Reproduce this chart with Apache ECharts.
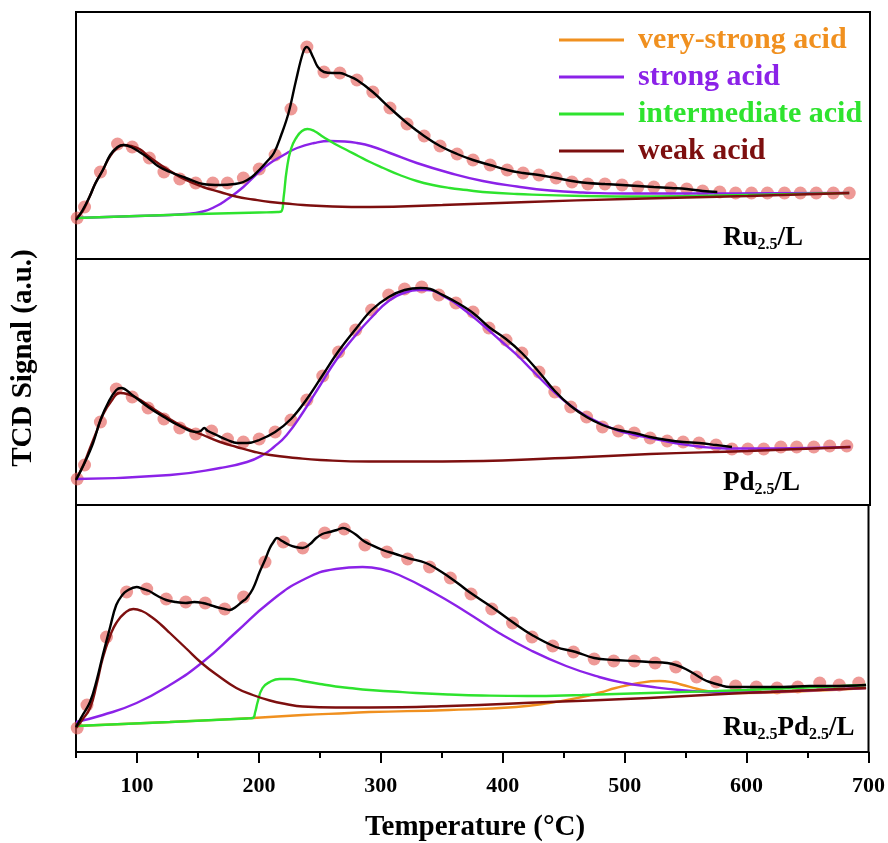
<!DOCTYPE html>
<html>
<head>
<meta charset="utf-8">
<script src="https://cdn.jsdelivr.net/npm/echarts@6/dist/echarts.min.js"></script>
<style>
  html, body { margin: 0; padding: 0; background: #fff; }
  #chart { width: 888px; height: 843px; }
</style>
</head>
<body>
<div id="chart"></div>
<script>
// NH3-TPD profiles with peak deconvolution, three catalysts stacked on a shared temperature axis.

// ---------- Ru2.5/L ----------
const tempRu = [51,57,70,84,96,110,122,135,148,162,174,187,200,213,226,239,253,266,280,293,307,321,335,348,362,375,389,403,416,429,443,456,469,483,497,510,523,537,550,563,577,590,603,616,630,643,656,670,683];
const measRu = [41,52,87,115,112,101,87,80,76,76,76,81,90,104,150,212,187,186,179,167,151,135,123,113,105,99,94,89,86,84,81,77,75,75,74,72,72,71,70,68,67,66,66,66,66,66,66,66,66];
const fitRu = [[50,39],[55,48],[61,62],[66,76],[72,89],[78,104],[84,112],[89,114],[95,112],[102,107],[108,102],[117,93],[127,87],[140,81],[154,75],[168,74],[180,75],[187,77],[194,82],[200,89],[206,97],[212,106],[218,124],[224,146],[230,178],[236,207],[239,212],[244,202],[248,192],[253,187],[260,186],[266,186],[273,183],[280,179],[293,167],[307,151],[321,136],[335,123],[348,113],[362,105],[375,99],[389,94],[403,89],[416,86],[429,84],[443,81],[456,78],[469,76],[483,75],[497,74],[510,73],[523,72],[537,71],[550,70],[563,68],[575,67]];
const weakRu = [[50,41],[55,47],[61,62],[66,76],[72,89],[78,103],[84,111],[89,114],[95,113],[102,110],[108,104],[117,96],[127,88],[140,79],[154,72],[168,67],[181,62.5],[195,59.5],[209,57],[222,55.5],[236,54],[260,52.5],[291,52],[350,54],[420,57],[500,60],[600,63],[683,66]];
const strongRu = [[50,41],[100,43],[140,45],[154,47.5],[165,53],[173,59],[187,72],[198,85],[209,96],[220,104],[231,111],[245,116],[258,118],[270,117.5],[280,116],[291,113],[307,106],[329,96],[356,86],[383,78],[411,72.5],[438,68.5],[465,66.5],[500,65.5],[560,65.5],[620,65.8],[683,66]];
const interRu = [[50,41],[100,43],[150,45],[200,46.5],[215,47],[218,47.5],[220,62],[222.5,89],[226,110],[230.7,122],[235,128],[239.4,130],[245,128],[252.5,122],[262,115],[271.6,109],[281,103],[290.7,97],[301.6,91],[315,84],[329,78],[342,74],[356,71],[370,69],[383,67],[411,65],[465,63],[520,62.5],[600,64],[683,66]];

// ---------- Pd2.5/L ----------
const tempPd = [51,57,70,83,96,109,122,135,148,161,174,187,200,213,226,239,252,265,279,292,306,319,333,347,361,375,388,402,415,429,442,455,468,481,494,507,520,534,547,560,574,587,600,613,627,640,654,667,681];
const measPd = [26,40,83,116,108,97,86,77,71,74,66,63,66,73,85,105,129,153,175,195,210,216,218,210,202,193,177,165,152,133,113,98,88,78,74,72,67,64,63,62,60,56,56,56,58,58,58,59,59];
const fitPd = [[50,25],[57,42],[64,62],[70,85],[77,104],[83,115],[87,117],[96,110],[109,98],[122,88],[135,79],[148,73],[152,74],[155,77],[158,74],[165,70],[174,65],[182,62],[190,62],[200,65],[213,73],[226,86],[239,106],[252,130],[265,154],[279,176],[292,195],[306,208],[319,215],[332,217],[340,216],[347,212],[361,203],[375,192],[388,178],[402,166],[415,152],[429,133],[442,114],[455,99],[468,88],[481,80],[494,75],[507,72],[520,68],[534,65],[547,63],[560,62],[574,60],[587,58]];
const weakPd = [[50,26],[56,40],[61.5,57],[67,74],[72,90],[79,104],[86,112],[92,111],[100,107],[110,99],[121.5,90],[137,79],[154,70],[168,63],[181.5,58],[195,53.5],[209,50],[230,47],[250,45],[290,43.5],[350,43.5],[450,47],[520,51],[600,54],[684,58]];
const strongPd = [[50,26],[127,30],[168,37],[190,43],[203,50],[212,58],[222.5,70],[236,93],[250,120],[263,145],[277,167],[290.7,186],[307,205],[320.7,213],[330,215],[337,215],[353.5,207],[368,195],[383,180],[397,165],[411,150],[424,134],[438,117],[452,102],[465,91],[479,82],[492.6,75],[506,70.5],[520,67],[540,62],[560,58.5],[583,56.5],[620,56.5],[684,58]];

// ---------- Ru2.5Pd2.5/L ----------
const tempRuPd = [51,59,75,91.5,108,124,140,156,172,187.5,205,220,236,254,270,287,305,322,340,357,374,391,408,424,441,458,475,491,508,525,542,559,575,591,608,625,642,660,676,692];
const measRuPd = [24,47,115,160,163,153,150,149,143,155,190,210,204,219,223,207,200,193,185,174,158,143,129,115,106,100,93,91,91,89,85,75,70,66,65,64,65,69,67,69];
const fitRuPd = [[50,25],[55,36],[61.5,50],[67,72],[72,97],[78,125],[83,147],[88,157],[91.5,161],[99.7,165],[105,163],[110,161],[117,156],[124,152],[132,150],[140,149],[147,150],[154,149],[160,147],[165,145],[172,143],[176,142],[181,145],[186,150],[190,154],[195,163],[200.6,180],[205,192],[209,204],[212,210],[214.8,214],[219,211],[225,207],[230,205],[236,204],[242,208],[247,214],[252,218],[258,220],[264,222],[269,224],[275,221],[280,217],[286,211],[290.7,208],[301.6,202],[312,198],[322,194],[337,189],[346,183],[356,175],[364,168],[372.6,160],[391,145],[408,130],[424,117],[443.5,105],[460,100],[475,94],[491,92],[508,91],[520,90],[535,89],[542,87],[550,83],[558.6,77],[564,73],[569.6,70],[578,67],[586,65],[600,65],[613,65],[630,65],[651.5,66],[670,66],[698,67]];
const weakRuPd = [[50,24],[55,32],[61.5,44],[67,68],[72,94],[78,116],[83,129],[90,139],[97,143],[104,141],[112,135],[120,127],[127,119],[140,104],[154,88],[168,75],[181.5,64],[195,57],[209,51.5],[222,48],[236,45.5],[263,44.5],[290.7,44.5],[356,46],[438,50],[520,54],[597,59],[698,64]];
const strongRuPd = [[50,30],[72,37],[99.7,49],[127,67],[154,90],[181.5,120],[209,150],[236,172],[263,183],[285,185],[300,183],[315,177],[342.5,160],[370,140],[397,119],[424,101],[452,86],[479,75],[500,69],[520,65.5],[545,62],[570,60],[597,59.5],[640,61],[698,64]];
const interRuPd = [[50,26],[127,30],[190,33.5],[195,34],[197,40],[199,50],[203,64],[209,70],[217,73],[225,73],[236,71],[250,68],[263,65.5],[274,64],[290.7,62],[310,60.5],[329,59],[356,57.5],[383,56.5],[420,56],[465,57],[520,59],[600,62],[698,67]];
const vstrongRuPd = [[50,26],[127,30],[195,34],[236,37],[274,39],[290.7,40],[356,42],[411,45],[438,49],[465,55],[480,59.5],[492.6,64],[509.5,68.5],[528.6,71],[540,69.5],[547.7,67],[560,63],[569.6,60.5],[583,59],[597,59],[650,61],[698,64]];

// Axis ticks
const majorTicks = [100, 200, 300, 400, 500, 600, 700];
const minorTicks = [50, 150, 250, 350, 450, 550, 650];

const FONT = '"Liberation Serif","Times New Roman",serif';
const C = {
  vstrong: '#F0901F',
  strong: '#8B22E8',
  inter: '#2EE32E',
  weak: '#7D0F0F',
  fit: '#000000',
  meas: 'rgba(228,92,86,0.78)'
};

const zip = (xs, ys) => xs.map((x, i) => [x, ys[i]]);

function panelSeries(idx, meas, fit, comps) {
  const out = [{
    type: 'scatter', xAxisIndex: idx, yAxisIndex: idx, data: meas,
    symbol: 'circle', symbolSize: 13, itemStyle: { color: C.meas }, z: 1, silent: true
  }];
  comps.forEach(c => out.push({
    type: 'line', name: c.name, xAxisIndex: idx, yAxisIndex: idx, data: c.data,
    smooth: 0.5, showSymbol: false, color: c.color,
    lineStyle: { color: c.color, width: 2.4 }, z: 2, silent: true
  }));
  out.push({
    type: 'line', xAxisIndex: idx, yAxisIndex: idx, data: fit,
    smooth: 0.4, showSymbol: false, lineStyle: { color: C.fit, width: 2.4 }, z: 3, silent: true
  });
  return out;
}

const series = [].concat(
  panelSeries(0, zip(tempRu, measRu), fitRu, [
    { name: 'strong acid', color: C.strong, data: strongRu },
    { name: 'intermediate acid', color: C.inter, data: interRu },
    { name: 'weak acid', color: C.weak, data: weakRu }
  ]),
  panelSeries(1, zip(tempPd, measPd), fitPd, [
    { name: 'strong acid', color: C.strong, data: strongPd },
    { name: 'weak acid', color: C.weak, data: weakPd }
  ]),
  panelSeries(2, zip(tempRuPd, measRuPd), fitRuPd, [
    { name: 'very-strong acid', color: C.vstrong, data: vstrongRuPd },
    { name: 'strong acid', color: C.strong, data: strongRuPd },
    { name: 'intermediate acid', color: C.inter, data: interRuPd },
    { name: 'weak acid', color: C.weak, data: weakRuPd }
  ])
);

const gridBase = { left: 76, width: 794, show: true, borderColor: '#000', borderWidth: 2, backgroundColor: '#fff' };
const hiddenX = i => ({
  type: 'value', gridIndex: i, min: 50, max: 700, show: true,
  axisLine: { show: false }, axisTick: { show: false }, axisLabel: { show: false }, splitLine: { show: false }
});
const hiddenY = (i, max) => ({
  type: 'value', gridIndex: i, min: 0, max: max,
  axisLine: { show: false }, axisTick: { show: false }, axisLabel: { show: false }, splitLine: { show: false }
});

const labelRich = {
  m: { fontFamily: FONT, fontWeight: 'bold', fontSize: 27, color: '#000', lineHeight: 30 },
  s: { fontFamily: FONT, fontWeight: 'bold', fontSize: 16, color: '#000', lineHeight: 12, verticalAlign: 'bottom' }
};
const panelTitle = (text, top) => ({ text, left: 723, top, padding: 0, textStyle: { rich: labelRich } });

const option = {
  animation: false,
  backgroundColor: '#fff',
  grid: [
    Object.assign({ top: 12, height: 247 }, gridBase),
    Object.assign({ top: 259, height: 246 }, gridBase),
    Object.assign({ top: 505, height: 247 }, gridBase)
  ],
  xAxis: [
    hiddenX(0),
    hiddenX(1),
    {
      type: 'value', gridIndex: 2, min: 50, max: 700, position: 'bottom',
      axisLine: { show: true, lineStyle: { color: '#000', width: 2 } },
      axisTick: { show: true, inside: false, length: 11, customValues: majorTicks, lineStyle: { color: '#000', width: 2 } },
      axisLabel: { show: true, customValues: majorTicks, margin: 23, color: '#000', fontFamily: FONT, fontWeight: 'bold', fontSize: 22 },
      splitLine: { show: false }
    },
    {
      type: 'value', gridIndex: 2, min: 50, max: 700, position: 'bottom', offset: 0,
      axisLine: { show: false },
      axisTick: { show: true, inside: false, length: 6, customValues: minorTicks, lineStyle: { color: '#000', width: 2 } },
      axisLabel: { show: false },
      splitLine: { show: false }
    }
  ],
  yAxis: [hiddenY(0, 247), hiddenY(1, 246), hiddenY(2, 247)],
  legend: {
    orient: 'vertical', left: 554, top: 20, selectedMode: false,
    icon: 'rect', itemWidth: 65, itemHeight: 3, itemGap: 7,
    textStyle: { fontFamily: FONT, fontWeight: 'bold', fontSize: 30, lineHeight: 30, padding: [0, 0, 0, 9] },
    data: [
      { name: 'very-strong acid', textStyle: { color: C.vstrong } },
      { name: 'strong acid', textStyle: { color: C.strong } },
      { name: 'intermediate acid', textStyle: { color: C.inter } },
      { name: 'weak acid', textStyle: { color: C.weak } }
    ]
  },
  title: [
    panelTitle('{m|Ru}{s|2.5}{m|/L}', 223),
    panelTitle('{m|Pd}{s|2.5}{m|/L}', 468),
    panelTitle('{m|Ru}{s|2.5}{m|Pd}{s|2.5}{m|/L}', 713)
  ],
  graphic: [
    {
      type: 'text', x: 24, y: 358, rotation: Math.PI / 2,
      style: { text: 'TCD Signal (a.u.)', font: 'bold 29px ' + FONT, fill: '#000', textAlign: 'center', textVerticalAlign: 'middle' }
    },
    {
      type: 'text', x: 475, y: 828,
      style: { text: 'Temperature (\u00B0C)', font: 'bold 29px ' + FONT, fill: '#000', textAlign: 'center', textVerticalAlign: 'middle' }
    }
  ],
  series
};

echarts.init(document.getElementById('chart'), null, { renderer: 'canvas' }).setOption(option);
</script>
</body>
</html>
